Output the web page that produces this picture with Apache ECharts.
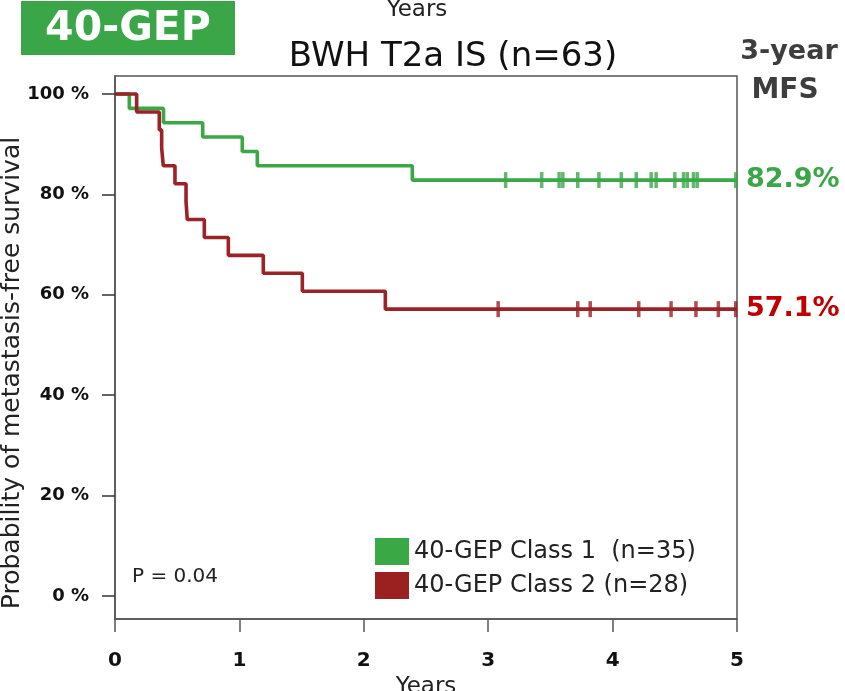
<!DOCTYPE html>
<html>
<head>
<meta charset="utf-8">
<script src="https://cdn.jsdelivr.net/npm/echarts@6/dist/echarts.min.js"></script>
<style>
html,body{margin:0;padding:0;background:#fff;}
#chart{width:845px;height:691px;}
</style>
</head>
<body>
<div id="chart"></div>
<script>
// ---- data ----
const class1Name = '40-GEP Class 1  (n=35)';
const class2Name = '40-GEP Class 2 (n=28)';
const class1Times = [0, 0.115, 0.39, 0.705, 1.023, 1.144, 2.39, 5];
const class1Surv  = [100, 97.14, 94.29, 91.43, 88.57, 85.71, 82.86, 82.86];
const class1Censor = [3.14, 3.43, 3.57, 3.60, 3.72, 3.89, 4.07, 4.19, 4.31, 4.35, 4.50, 4.57, 4.60, 4.65, 4.68, 4.99];
const class2Times = [0, 0.174, 0.356, 0.375, 0.388, 0.482, 0.571, 0.581, 0.718, 0.911, 1.192, 1.506, 2.173, 5];
const class2Surv  = [100, 96.43, 92.86, 89.29, 85.71, 82.14, 78.57, 75.0, 71.43, 67.86, 64.29, 60.71, 57.14, 57.14];
const class2Censor = [3.08, 3.72, 3.82, 4.21, 4.47, 4.67, 4.85, 4.99];
const xTicks = [0, 1, 2, 3, 4, 5];
const yTicks = [0, 20, 40, 60, 80, 100];

const GREEN = '#3AA847';
const RED = '#9B2226';
const F = 'DejaVu Sans';

function pairs(t, s) { return t.map((v, i) => [v, s[i]]); }
function censorPts(t, t0, s0) {
  return t.map(v => {
    let val = s0[0];
    for (let i = 0; i < t0.length; i++) if (t0[i] <= v) val = s0[i];
    return [v, val];
  });
}

const chart = echarts.init(document.getElementById('chart'), null, {renderer: 'canvas'});
chart.setOption({
  animation: false,
  backgroundColor: '#fff',
  grid: {left: 115, right: 108, top: 76, bottom: 72, containLabel: false, outerBoundsMode: 'none',
    show: true, borderColor: '#555', borderWidth: 1.5, backgroundColor: 'transparent'},
  xAxis: {
    type: 'value', min: 0, max: 5, interval: 1,
    axisLine: {show: true, onZero: false, lineStyle: {color: '#555', width: 1.5}},
    axisTick: {show: true, length: 13, lineStyle: {color: '#555', width: 1.5}},
    splitLine: {show: false},
    axisLabel: {margin: 32, color: '#111', fontFamily: F, fontWeight: 'bold', fontSize: 20,
      customValues: xTicks},
    name: 'Years', nameLocation: 'middle', nameGap: 57,
    nameTextStyle: {fontFamily: F, fontSize: 23, color: '#222'}
  },
  yAxis: {
    type: 'value', min: -4.6, max: 103.6,
    axisLine: {show: true, onZero: false, lineStyle: {color: '#555', width: 1.5}},
    axisTick: {show: true, length: 13, lineStyle: {color: '#333', width: 1.5}, customValues: yTicks},
    splitLine: {show: false},
    axisLabel: {margin: 26, color: '#111', fontFamily: F, fontWeight: 'bold', fontSize: 18,
      customValues: yTicks, formatter: v => v + ' %'}
  },
  legend: {
    orient: 'vertical', left: 370, top: 533, itemWidth: 34, itemHeight: 27, itemGap: 7,
    icon: 'rect',
    data: [{name: class1Name, itemStyle: {color: '#3AA845'}}, {name: class2Name, itemStyle: {color: '#9B2020'}}],
    textStyle: {fontFamily: F, fontSize: 24, color: '#222', padding: [0, 0, 0, 0]}
  },
  series: [
    {
      name: class1Name, type: 'line', step: 'end', showSymbol: false, z: 3,
      data: pairs(class1Times, class1Surv),
      lineStyle: {color: GREEN, width: 3.6}, itemStyle: {color: GREEN},
      endLabel: {show: true, distance: 9, formatter: p => p.value[1].toFixed(1) + '%',
        color: '#3AA647', fontFamily: F, fontWeight: 'bold', fontSize: 27}
    },
    {
      name: 'c1cens', type: 'scatter', symbol: 'rect', symbolSize: [3.5, 16], z: 3,
      data: censorPts(class1Censor, class1Times, class1Surv),
      itemStyle: {color: GREEN}
    },
    {
      name: class2Name, type: 'line', step: 'end', showSymbol: false, z: 4,
      data: pairs(class2Times, class2Surv),
      lineStyle: {color: RED, width: 3.6}, itemStyle: {color: RED},
      endLabel: {show: true, distance: 9, formatter: p => p.value[1].toFixed(1) + '%',
        color: '#C00000', fontFamily: F, fontWeight: 'bold', fontSize: 27}
    },
    {
      name: 'c2cens', type: 'scatter', symbol: 'rect', symbolSize: [3.5, 16], z: 4,
      data: censorPts(class2Censor, class2Times, class2Surv),
      itemStyle: {color: RED}
    }
  ],
  graphic: [
    {type: 'rect', left: 21, top: 1, shape: {width: 214, height: 54}, style: {fill: '#3AA648'}},
    {type: 'text', x: 128, y: 29, style: {text: '40-GEP', fill: '#fff', font: 'bold 41px "DejaVu Sans"', textAlign: 'center', textVerticalAlign: 'middle'}},
    {type: 'text', x: 417, y: 10, style: {text: 'Years', fill: '#222', font: '23px "DejaVu Sans"', textAlign: 'center', textVerticalAlign: 'middle'}},
    {type: 'text', x: 453, y: 57, style: {text: 'BWH T2a IS (n=63)', fill: '#111', font: '34px "DejaVu Sans"', textAlign: 'center', textVerticalAlign: 'middle'}},
    {type: 'text', x: 789, y: 52, style: {text: '3-year', fill: '#3D3D3D', font: 'bold 27px "DejaVu Sans"', textAlign: 'center', textVerticalAlign: 'middle'}},
    {type: 'text', x: 785, y: 91, style: {text: 'MFS', fill: '#3D3D3D', font: 'bold 28px "DejaVu Sans"', textAlign: 'center', textVerticalAlign: 'middle'}},
    {type: 'text', x: 132, y: 577, style: {text: 'P = 0.04', fill: '#222', font: '20px "DejaVu Sans"', textAlign: 'left', textVerticalAlign: 'middle'}},
    {type: 'text', x: 12, y: 373, rotation: Math.PI / 2, style: {text: 'Probability of metastasis-free survival', fill: '#222', font: '25px "DejaVu Sans"', textAlign: 'center', textVerticalAlign: 'middle'}}
  ]
});
</script>
</body>
</html>
